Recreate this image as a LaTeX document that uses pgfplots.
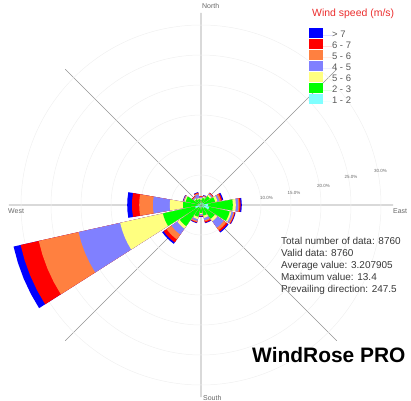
\documentclass[border=0pt]{standalone}
\usepackage{fontspec}
\setmainfont{Liberation Sans}
\usepackage{pgfplots}
\usepackage{pgfplotstable}
\pgfplotsset{compat=1.18}
\usepgfplotslibrary{polar}

% speed classes, inner to outer
\definecolor{wc1}{RGB}{128,255,255}
\definecolor{wc2}{RGB}{0,255,0}
\definecolor{wc3}{RGB}{255,255,128}
\definecolor{wc4}{RGB}{128,128,255}
\definecolor{wc5}{RGB}{255,128,64}
\definecolor{wc6}{RGB}{255,0,0}
\definecolor{wc7}{RGB}{0,0,255}
\definecolor{titlered}{RGB}{235,45,45}

% frequency (%) per direction and speed class
\pgfplotstableread{
dir   c1  c2  c3  c4  c5  c6  c7
0     0.3 0.6 0.2 0.2 0.1 0.1 0.0
22.5  0.3 0.9 0.2 0.1 0.1 0.0 0.1
45    0.4 1.4 0.3 0.2 0.1 0.1 0.0
67.5  0.5 1.9 0.4 0.3 0.3 0.2 0.2
90    1.2 4.1 0.5 0.4 0.2 0.2 0.2
112.5 1.4 3.5 0.3 0.3 0.2 0.1 0.1
135   0.6 2.2 0.5 1.3 0.5 0.3 0.2
157.5 0.4 1.4 0.4 0.4 0.2 0.2 0.1
180   0.3 1.0 0.2 0.2 0.1 0.1 0.1
202.5 0.4 1.6 0.4 0.3 0.2 0.1 0.1
225   0.5 3.8 0.5 1.2 1.0 0.6 0.3
247.5 1.0 5.5 7.3 7.1 6.8 3.1 1.2
270   0.5 2.5 2.2 2.8 2.3 1.2 0.8
292.5 0.4 2.2 0.2 0.1 0.1 0.0 0.1
315   0.3 0.9 0.2 0.2 0.1 0.1 0.0
337.5 0.3 0.7 0.2 0.6 0.2 0.1 0.1
}\windtable

\def\hw{10}% half width of a petal, degrees
\newcommand\petal[1]{%
  \pgfplotstablegetelem{#1}{dir}\of\windtable
  \pgfmathsetmacro\ang{90-\pgfplotsretval}%
  \pgfmathsetmacro\aA{\ang-\hw}%
  \pgfmathsetmacro\aB{\ang-\hw/2}%
  \pgfmathsetmacro\aC{\ang+\hw/2}%
  \pgfmathsetmacro\aD{\ang+\hw}%
  \def\cum{0}%
  \pgfplotsforeachungrouped \k in {1,2,3,4,5,6,7}{%
    \edef\tmp{\noexpand\pgfplotstablegetelem{#1}{c\k}}\tmp\of\windtable
    \pgfmathsetmacro\cum{\cum+\pgfplotsretval}%
    \expandafter\let\csname cum\k\endcsname\cum
  }%
  \pgfplotsforeachungrouped \k in {7,6,5,4,3,2,1}{%
    \edef\R{\csname cum\k\endcsname}%
    \edef\doplot{\noexpand\addplot[fill=wc\k, draw=none, forget plot]
      coordinates {(\aA,0) (\aA,\R) (\aB,\R) (\ang,\R) (\aC,\R) (\aD,\R) (\aD,0)};}%
    \doplot
  }%
}

\begin{document}
\begin{tikzpicture}[x=1bp,y=1bp]
\path[use as bounding box] (0,0) rectangle (411,401);
\begin{polaraxis}[
    at={(201bp,196bp)}, anchor=origin,
    width=384bp, height=384bp, scale only axis,
    ymin=0, ymax=32,
    xtick={0,45,...,315}, xticklabel=\empty,
    ytick={5,10,...,30}, yticklabel=\empty,
    grid=major,
    x grid style={black!42, line width=0.6bp},
    y grid style={black!6, line width=0.5bp},
    axis line style={draw=none},
    tick style={draw=none},
    legend image code/.code={
        \fill[#1] (0bp,-3bp) rectangle (14bp,7bp);
        \path (0bp,0bp) -- (23bp,0bp);
    },
    legend cell align=left,
    legend style={
        at={(0.781,0.961)}, anchor=north west,
        draw=none, fill=none, inner sep=0pt, row sep=0pt,
        font=\fontsize{9.5}{9.5}\selectfont,
        nodes={inner sep=0pt, text=black!65}
    }
]
\petal{0}\petal{1}\petal{2}\petal{3}
\petal{4}\petal{5}\petal{6}\petal{7}
\petal{8}\petal{9}\petal{10}\petal{11}
\petal{12}\petal{13}\petal{14}\petal{15}

\addlegendimage{fill=wc7, draw=none}\addlegendentry{> 7}
\addlegendimage{fill=wc6, draw=none}\addlegendentry{6 - 7}
\addlegendimage{fill=wc5, draw=none}\addlegendentry{5 - 6}
\addlegendimage{fill=wc4, draw=none}\addlegendentry{4 - 5}
\addlegendimage{fill=wc3, draw=none}\addlegendentry{5 - 6}
\addlegendimage{fill=wc2, draw=none}\addlegendentry{2 - 3}
\addlegendimage{fill=wc1, draw=none}\addlegendentry{1 - 2}
\end{polaraxis}

% compass labels
\begin{scope}[every node/.style={inner sep=0pt, anchor=base west, text=black!60,
    font=\fontsize{7}{7}\selectfont}]
\node at (202,392) {North};
\node at (203,0.6) {South};
\node at (8,188) {West};
\node at (393,188) {East};
\end{scope}

% ring labels
\begin{scope}[every node/.style={inner sep=0pt, text=black!60,
    font=\fontsize{4.5}{4.5}\selectfont}]
\node at (266.5,203.3) {10.0\%};
\node at (294,208.3) {15.0\%};
\node at (323.5,215.3) {20.0\%};
\node at (351,223.7) {25.0\%};
\node at (380.5,230.3) {30.0\%};
\end{scope}

\node[inner sep=0pt, anchor=base west, text=titlered, font=\fontsize{10.5}{10.5}\selectfont]
    at (312,384.5) {Wind speed (m/s)};

\begin{scope}[every node/.style={inner sep=0pt, anchor=base west, text=black!78,
    font=\fontsize{10}{10}\selectfont}]
\node at (281,157) {Total number of data: 8760};
\node at (281,145) {Valid data: 8760};
\node at (281,133) {Average value: 3.207905};
\node at (281,121) {Maximum value: 13.4};
\node at (281,109) {Prevailing direction: 247.5};
\end{scope}

\node[inner sep=0pt, anchor=base west, font=\fontsize{21}{21}\selectfont\bfseries]
    at (252,39) {WindRose PRO};
\end{tikzpicture}
\end{document}
